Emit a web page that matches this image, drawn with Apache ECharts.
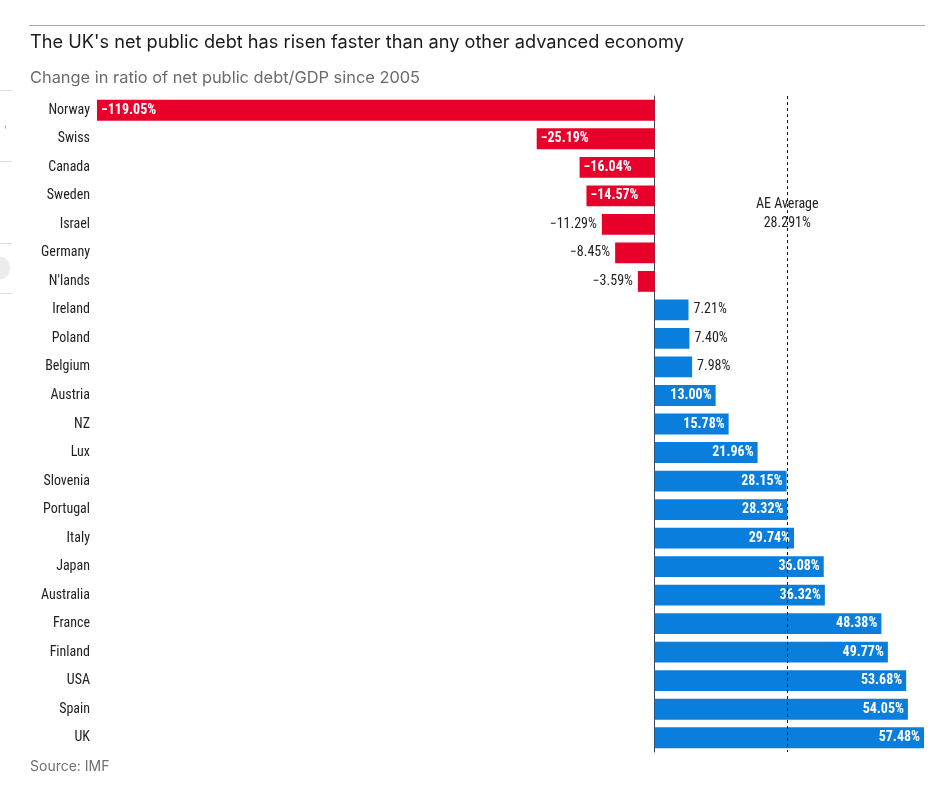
<!DOCTYPE html>
<html>
<head>
<meta charset="utf-8">
<script src="https://cdn.jsdelivr.net/npm/echarts@6/dist/echarts.min.js"></script>
<style>
  html, body { margin: 0; padding: 0; background: #fff; }
  #chart { width: 950px; height: 804px; }
</style>
</head>
<body>
<div id="chart"></div>
<script>
const countries = ["Norway","Swiss","Canada","Sweden","Israel","Germany","N'lands","Ireland","Poland","Belgium","Austria","NZ","Lux","Slovenia","Portugal","Italy","Japan","Australia","France","Finland","USA","Spain","UK"];
const values = [-119.05,-25.19,-16.04,-14.57,-11.29,-8.45,-3.59,7.21,7.40,7.98,13.00,15.78,21.96,28.15,28.32,29.74,36.08,36.32,48.38,49.77,53.68,54.05,57.48];
const aeAverage = 28.291;
const titleText = "The UK's net public debt has risen faster than any other advanced economy";
const subtitleText = "Change in ratio of net public debt/GDP since 2005";
const sourceText = "Source: IMF";

const condensed = '"Roboto Condensed", "DejaVu Sans Condensed", Roboto, sans-serif';
const RED = '#e8002b';
const BLUE = '#0a7edc';

function fmt(v) {
  return (v < 0 ? '\u2212' : '') + Math.abs(v).toFixed(2) + '%';
}

const data = values.map(v => {
  const inside = Math.abs(v) >= 12;
  return {
    value: v,
    itemStyle: { color: v < 0 ? RED : BLUE },
    label: {
      show: true,
      position: v < 0 ? (inside ? 'insideLeft' : 'left') : (inside ? 'insideRight' : 'right'),
      color: inside ? '#ffffff' : '#222222',
      fontWeight: inside ? 'bold' : 'normal',
      distance: inside ? 4 : 5,
      formatter: () => fmt(v)
    }
  };
});

const chart = echarts.init(document.getElementById('chart'), null, { renderer: 'canvas' });
chart.setOption({
  animation: false,
  backgroundColor: '#ffffff',
  textStyle: { fontFamily: condensed },
  grid: { left: 97, right: 26, top: 96, bottom: 52, containLabel: false },
  xAxis: { type: 'value', min: -119.05, max: 57.48, show: false },
  yAxis: [{
    type: 'category',
    data: countries,
    inverse: true,
    axisTick: { show: false },
    axisLine: { show: true, onZero: true, lineStyle: { color: '#3a4550', width: 1 } },
    axisLabel: { show: false }
  }, {
    type: 'category',
    data: countries,
    inverse: true,
    position: 'left',
    axisTick: { show: false },
    axisLine: { show: false, onZero: false },
    axisLabel: { show: true, margin: 7, color: '#222', fontSize: 14, fontFamily: condensed }
  }],
  series: [{
    type: 'bar',
    data: data,
    barCategoryGap: '27%',
    label: { fontFamily: condensed, fontSize: 14 },
    markLine: {
      silent: true,
      symbol: ['none', 'none'],
      label: { show: false },
      lineStyle: { color: '#111', type: [3, 3], width: 1 },
      data: [{ xAxis: aeAverage }]
    },
    markPoint: {
      silent: true,
      symbol: 'rect',
      symbolSize: 0,
      data: [{ coord: [aeAverage, 'Sweden'] }],
      label: {
        show: true,
        position: 'inside',
        offset: [0, 18],
        formatter: 'AE Average\n' + aeAverage.toFixed(3) + '%',
        color: '#222',
        fontFamily: condensed,
        fontSize: 14,
        lineHeight: 19,
        align: 'center'
      }
    }
  }],
  graphic: [
    { type: 'line', shape: { x1: 29, y1: 25.5, x2: 925, y2: 25.5 }, style: { stroke: '#a8a8a8', lineWidth: 1 } },
    { type: 'text', left: 30, top: 34, style: { text: titleText, font: '400 18.2px Inter, "Open Sans", sans-serif', fill: '#1a1a1a' } },
    { type: 'text', left: 30, top: 70, style: { text: subtitleText, font: '400 16.4px Inter, "Open Sans", sans-serif', fill: '#6b6b6b' } },
    { type: 'text', left: 30, top: 760, style: { text: sourceText, font: '400 14px Inter, "Open Sans", sans-serif', fill: '#707070' } },
    { type: 'line', shape: { x1: 0, y1: 90.5, x2: 12, y2: 90.5 }, style: { stroke: '#dddddd', lineWidth: 1 } },
    { type: 'line', shape: { x1: 0, y1: 161.5, x2: 12, y2: 161.5 }, style: { stroke: '#dddddd', lineWidth: 1 } },
    { type: 'line', shape: { x1: 0, y1: 243.5, x2: 12, y2: 243.5 }, style: { stroke: '#dddddd', lineWidth: 1 } },
    { type: 'line', shape: { x1: 0, y1: 293.5, x2: 12, y2: 293.5 }, style: { stroke: '#dddddd', lineWidth: 1 } },
    { type: 'circle', shape: { cx: -2, cy: 268, r: 12 }, style: { fill: '#ececec' } },
    { type: 'text', left: 4, top: 119, style: { text: ',', font: '10px sans-serif', fill: '#888' } }
  ]
});
</script>
</body>
</html>
